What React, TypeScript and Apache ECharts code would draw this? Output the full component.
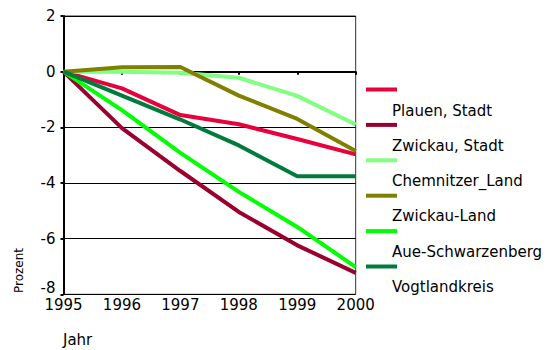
import React, { useEffect, useRef } from "react";
import * as echarts from "echarts";

const years = ["1995", "1996", "1997", "1998", "1999", "2000"];
const seriesNames = [
  "Plauen, Stadt",
  "Zwickau, Stadt",
  "Chemnitzer_Land",
  "Zwickau-Land",
  "Aue-Schwarzenberg",
  "Vogtlandkreis",
];
const seriesColors = ["#e8003d", "#99002e", "#80ff80", "#808000", "#00ff00", "#007a3d"];
const plauen = [0, -0.6, -1.56, -1.89, -2.42, -2.97];
const zwickauStadt = [0, -2.03, -3.57, -5.04, -6.24, -7.23];
const chemnitzerLand = [0, 0.0, -0.04, -0.22, -0.87, -1.9];
const zwickauLand = [0, 0.16, 0.17, -0.86, -1.7, -2.85];
const aueSchwarzenberg = [0, -1.38, -2.92, -4.32, -5.58, -7.02];
const vogtlandkreis = [0, -0.86, -1.72, -2.65, -3.76, -3.76];
const seriesData = [plauen, zwickauStadt, chemnitzerLand, zwickauLand, aueSchwarzenberg, vogtlandkreis];
const yMin = -8;
const yMax = 2;
const yStep = 2;

const FONT = "'DejaVu Sans', Verdana, sans-serif";

export default function App() {
  const ref = useRef<HTMLDivElement>(null);
  useEffect(() => {
    if (!ref.current) return;
    const chart = echarts.init(ref.current, null, { renderer: "svg" });
    const legendGraphics: any[] = [];
    seriesNames.forEach((name, i) => {
      legendGraphics.push({
        type: "line",
        shape: { x1: 366, y1: 89.5 + 35.4 * i, x2: 397, y2: 89.5 + 35.4 * i },
        style: { stroke: seriesColors[i], lineWidth: 4 },
      });
      legendGraphics.push({
        type: "text",
        x: 392,
        y: 110.7 + 35.2 * i,
        style: {
          text: name,
          font: `15px ${FONT}`,
          fill: "#000",
          verticalAlign: "middle",
          align: "left",
        },
      });
    });
    chart.setOption({
      animation: false,
      backgroundColor: "#fff",
      grid: {
        left: 63.5,
        right: 193.3,
        top: 16,
        bottom: 55.7,
        show: true,
        borderColor: "#333",
        borderWidth: 1,
        containLabel: false,
      },
      xAxis: {
        type: "category",
        data: years,
        boundaryGap: false,
        axisLine: { show: true, lineStyle: { color: "#000", width: 2 } },
        axisTick: { show: true, alignWithLabel: true, length: 3, lineStyle: { color: "#000", width: 2 } },
        axisLabel: { color: "#000", fontFamily: FONT, fontSize: 15, margin: 3 },
        splitLine: { show: false },
      },
      yAxis: {
        type: "value",
        min: yMin,
        max: yMax,
        interval: yStep,
        axisLine: { show: true, onZero: false, lineStyle: { color: "#000", width: 2 } },
        axisTick: { show: true, length: 3, lineStyle: { color: "#000", width: 2 } },
        axisLabel: {
          color: "#000",
          fontFamily: FONT,
          fontSize: 15,
          margin: 8,
          formatter: (v: number) => (v === yMin ? `{low|${v}}` : `${v}`),
          rich: {
            low: { fontFamily: FONT, fontSize: 15, color: "#000", padding: [0, 0, 12, 0] },
          },
        },
        splitLine: { show: true, lineStyle: { color: "#000", width: 1 } },
      },
      series: seriesNames.map((name, i) => ({
        name,
        type: "line",
        data: seriesData[i],
        symbol: "none",
        lineStyle: { color: seriesColors[i], width: 4 },
        itemStyle: { color: seriesColors[i] },
      })),
      graphic: [
        ...legendGraphics,
        {
          type: "text",
          x: 19,
          y: 270.5,
          rotation: Math.PI / 2,
          style: {
            text: "Prozent",
            font: `12px ${FONT}`,
            fill: "#000",
            align: "center",
            verticalAlign: "middle",
          },
        },
        {
          type: "text",
          x: 63,
          y: 340,
          style: {
            text: "Jahr",
            font: `15px ${FONT}`,
            fill: "#000",
            align: "left",
            verticalAlign: "middle",
          },
        },
      ],
    });
    return () => chart.dispose();
  }, []);
  return <div ref={ref} style={{ width: 549, height: 350, position: "absolute", left: 0, top: 0 }} />;
}
